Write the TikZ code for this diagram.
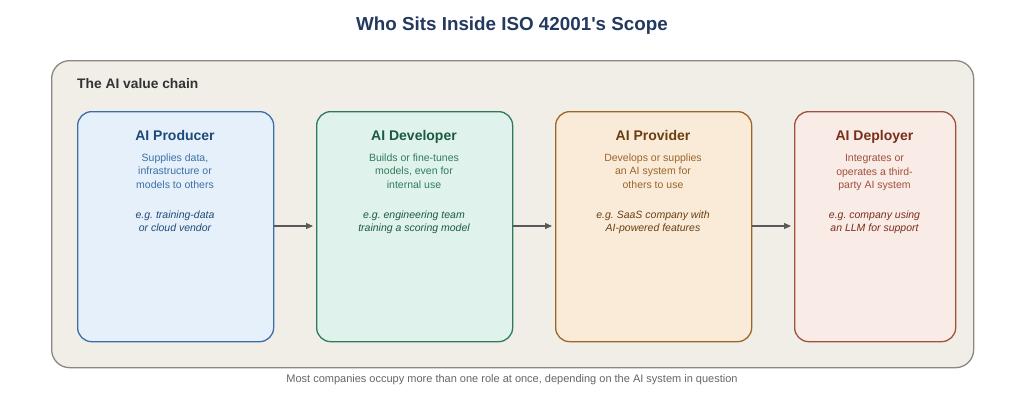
\documentclass[tikz,border=0pt]{standalone}
\usepackage{fontspec}
\setmainfont{Liberation Sans}
\usetikzlibrary{arrows.meta}
\frenchspacing
\definecolor{navy}{HTML}{24395F}
\definecolor{outerfill}{HTML}{F1EEE8}
\definecolor{outerline}{HTML}{8C8880}
\definecolor{pfill}{HTML}{E6F0FA}\definecolor{pline}{HTML}{3A6EA8}\definecolor{ptitle}{HTML}{1E4A78}\definecolor{ptext}{HTML}{3A70A8}
\definecolor{dfill}{HTML}{E0F2EC}\definecolor{dline}{HTML}{2E7A5C}\definecolor{dtitle}{HTML}{1A5A40}\definecolor{dtext}{HTML}{2E7D5B}
\definecolor{vfill}{HTML}{FAEBD8}\definecolor{vline}{HTML}{9C6628}\definecolor{vtitle}{HTML}{6A3E10}\definecolor{vtext}{HTML}{9A6628}
\definecolor{yfill}{HTML}{F9EBE6}\definecolor{yline}{HTML}{A0503C}\definecolor{ytitle}{HTML}{7A2E1A}\definecolor{ytext}{HTML}{A0503C}
\tikzset{
  rolebox/.style={draw, line width=1.3pt, rounded corners=14pt, anchor=north west, inner sep=0pt},
  roletitle/.style={font=\fontsize{14}{16}\selectfont\bfseries, anchor=base, inner sep=0pt},
  roledesc/.style={font=\fontsize{10.5}{13.5}\selectfont\frenchspacing, align=center, anchor=north},
  roleex/.style={font=\fontsize{10.5}{13.5}\selectfont\itshape\frenchspacing, align=center, anchor=north},
  flow/.style={draw=black!65, line width=1.2pt, -{Triangle[length=7pt,width=6pt]}},
}
\begin{document}
\begin{tikzpicture}[x=1pt,y=-1pt]
\useasboundingbox[fill=white] (0,0) rectangle (1024,410);
\node[font=\fontsize{18.8}{22}\selectfont\bfseries, text=navy] (title) at (512,26) {Who Sits Inside ISO 42001\textquotesingle s Scope};
\node[draw=outerline, fill=outerfill, line width=1.3pt, rounded corners=18pt, minimum width=922pt, minimum height=307pt, anchor=north west] (outer) at (51,60) {};
\node[font=\fontsize{13.8}{16}\selectfont\bfseries, text=black!80, anchor=west, inner sep=0pt] (chain) at (77,84) {The AI value chain};
% boxes
\node[rolebox, draw=pline, fill=pfill, minimum width=196pt, minimum height=230pt] (prod) at (77,111) {};
\node[rolebox, draw=dline, fill=dfill, minimum width=196pt, minimum height=230pt] (dev) at (316,111) {};
\node[rolebox, draw=vline, fill=vfill, minimum width=196pt, minimum height=230pt] (prov) at (555,111) {};
\node[rolebox, draw=yline, fill=yfill, minimum width=161pt, minimum height=230pt] (depl) at (794,111) {};
% producer
\node[roletitle, text=ptitle] (prodT) at (175,140.5) {AI Producer};
\node[roledesc, text=ptext] (prodD) at (175,150) {Supplies data,\\infrastructure or\\models to others};
\node[roleex, text=ptitle] (prodE) at (175,207) {e.g. training-data\\or cloud vendor};
% developer
\node[roletitle, text=dtitle] (devT) at (414,140.5) {AI Developer};
\node[roledesc, text=dtext] (devD) at (414,150) {Builds or fine-tunes\\models, even for\\internal use};
\node[roleex, text=dtitle] (devE) at (414,207) {e.g. engineering team\\training a scoring model};
% provider
\node[roletitle, text=vtitle] (provT) at (653,140.5) {AI Provider};
\node[roledesc, text=vtext] (provD) at (653,150) {Develops or supplies\\an AI system for\\others to use};
\node[roleex, text=vtitle] (provE) at (653,207) {e.g. SaaS company with\\AI-powered features};
% deployer
\node[roletitle, text=ytitle] (deplT) at (874.5,140.5) {AI Deployer};
\node[roledesc, text=ytext] (deplD) at (874.5,151) {Integrates or\\operates a third-\\party AI system};
\node[roleex, text=ytitle] (deplE) at (874.5,207) {e.g. company using\\an LLM for support};
% arrows
\draw[flow] (prod.east |- 0,226) -- ([xshift=-3pt]dev.west |- 0,226);
\draw[flow] (dev.east |- 0,226) -- ([xshift=-3pt]prov.west |- 0,226);
\draw[flow] (prov.east |- 0,226) -- ([xshift=-3pt]depl.west |- 0,226);
\node[font=\fontsize{11}{13}\selectfont, text=black!60] (foot) at (512,380) {Most companies occupy more than one role at once, depending on the AI system in question};
\end{tikzpicture}
\end{document}
